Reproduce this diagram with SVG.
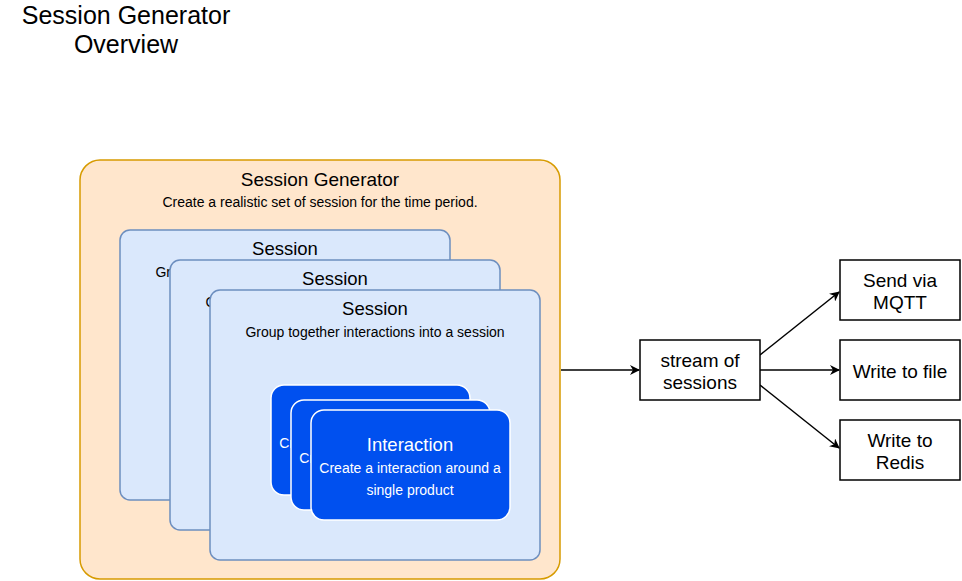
<svg xmlns="http://www.w3.org/2000/svg" width="962" height="581" viewBox="0 0 962 581">
<defs>
<marker id="arr" viewBox="0 0 10 10" refX="9" refY="5" markerWidth="10" markerHeight="10" markerUnits="userSpaceOnUse" orient="auto">
<path d="M0,0 L10,5 L0,10 L3,5 Z" fill="#000"/>
</marker>
<style>
text{font-family:"Liberation Sans",Arial,Helvetica,sans-serif;text-anchor:middle;fill:#000}
.sess rect{fill:#dae8fc;stroke:#6c8ebf;stroke-width:1.5}
.inter rect{fill:#0050ef;stroke:#ffffff;stroke-width:1.5}
.inter text{fill:#fff}
.plain rect{fill:#fff;stroke:#000;stroke-width:1.5}
.t19{font-size:19px}
.t18{font-size:18.5px}
.t14{font-size:14px}
.edge{stroke:#000;stroke-width:1.5;fill:none;marker-end:url(#arr)}
</style>
</defs>
<rect width="962" height="581" fill="#fff"/>
<g id="title">
<text x="126" y="24" style="font-size:25px">Session Generator</text>
<text x="126" y="53" style="font-size:25px">Overview</text>
</g>
<g id="generator">
<rect x="80" y="160" width="480" height="419" rx="20" fill="#ffe6cc" stroke="#d79b00" stroke-width="1.5"/>
<text x="320" y="186" class="t19">Session Generator</text>
<text x="320" y="207" class="t14">Create a realistic set of session for the time period.</text>
</g>
<g id="session1" class="sess">
<rect x="120" y="230" width="330" height="270" rx="10"/>
<text x="285" y="255" class="t18">Session</text>
<text x="285" y="277" class="t14">Group together interactions into a session</text>
</g>
<g id="session2" class="sess">
<rect x="170" y="260" width="330" height="270" rx="10"/>
<text x="335" y="285" class="t18">Session</text>
<text x="335" y="307" class="t14">Group together interactions into a session</text>
</g>
<g id="session3" class="sess">
<rect x="210" y="290" width="330" height="270" rx="10"/>
<text x="375" y="315" class="t18">Session</text>
<text x="375" y="337" class="t14">Group together interactions into a session</text>
</g>
<g id="interaction1" class="inter">
<rect x="271" y="385" width="199" height="110" rx="13"/>
<text x="370" y="426" class="t18">Interaction</text>
<text x="370" y="448" class="t14">Create a interaction around a</text>
<text x="370" y="470" class="t14">single product</text>
</g>
<g id="interaction2" class="inter">
<rect x="291" y="400" width="199" height="110" rx="13"/>
<text x="390" y="441" class="t18">Interaction</text>
<text x="390" y="463" class="t14">Create a interaction around a</text>
<text x="390" y="485" class="t14">single product</text>
</g>
<g id="interaction3" class="inter">
<rect x="311" y="410" width="199" height="110" rx="13"/>
<text x="410" y="451" class="t18">Interaction</text>
<text x="410" y="473" class="t14">Create a interaction around a</text>
<text x="410" y="495" class="t14">single product</text>
</g>
<g id="connectors">
<line class="edge" x1="561" y1="370" x2="639" y2="370"/>
<line class="edge" x1="760" y1="355" x2="839" y2="292"/>
<line class="edge" x1="760" y1="370" x2="839" y2="370"/>
<line class="edge" x1="760" y1="385" x2="839" y2="448"/>
</g>
<g id="stream" class="plain">
<rect x="640" y="340" width="120" height="60"/>
<text x="700" y="367" class="t19">stream of</text>
<text x="700" y="389" class="t19">sessions</text>
</g>
<g id="mqtt" class="plain">
<rect x="840" y="260" width="120" height="60"/>
<text x="900" y="287" class="t19">Send via</text>
<text x="900" y="309" class="t19">MQTT</text>
</g>
<g id="file" class="plain">
<rect x="840" y="340" width="120" height="60"/>
<text x="900" y="378" class="t19">Write to file</text>
</g>
<g id="redis" class="plain">
<rect x="840" y="420" width="120" height="60"/>
<text x="900" y="447" class="t19">Write to</text>
<text x="900" y="469" class="t19">Redis</text>
</g>
</svg>
